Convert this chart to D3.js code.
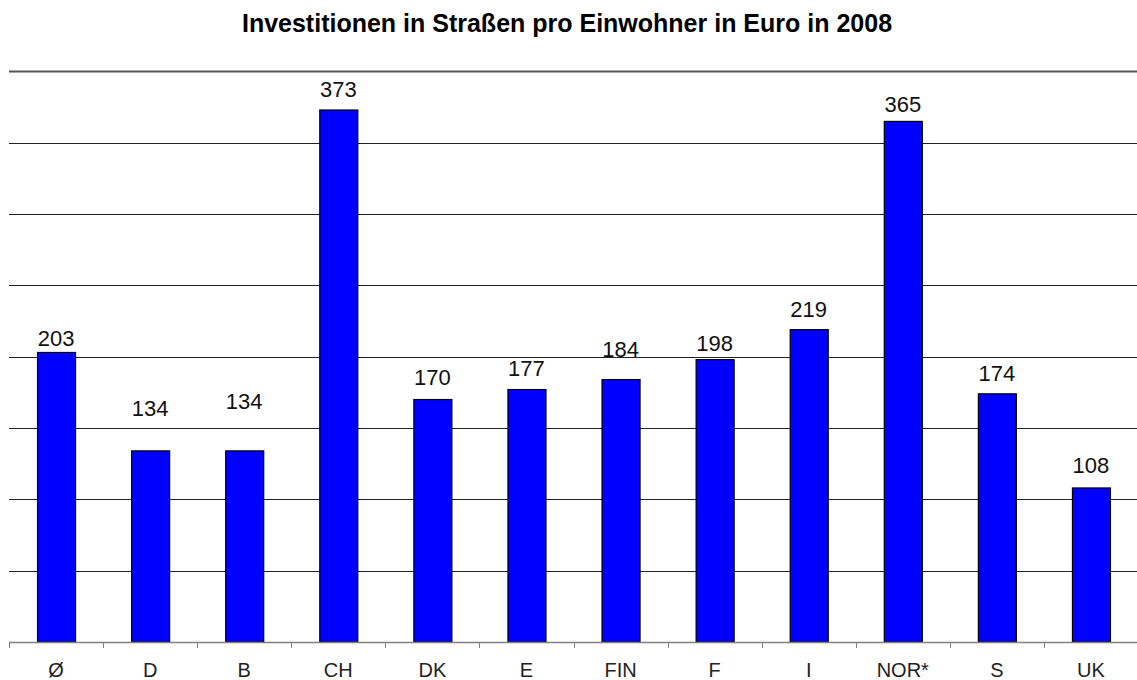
<!DOCTYPE html>
<html><head><meta charset="utf-8">
<script src="https://cdn.jsdelivr.net/npm/d3@7"></script>
<style>body{margin:0;background:#fff;} svg{display:block;font-family:"Liberation Sans",Arial,sans-serif;}</style>
</head><body>
<svg id="c" width="1137" height="680"></svg>
<script>
const title = "Investitionen in Straßen pro Einwohner in Euro in 2008";
const categories = ["Ø","D","B","CH","DK","E","FIN","F","I","NOR*","S","UK"];
const values = [203,134,134,373,170,177,184,198,219,365,174,108];
const yTicks = [0,50,100,150,200,250,300,350,400];
// label gap above bar top (px), styling only
const labelGap = [6,35,42,13,15,14,23,9,13,9,13,15];

const svg = d3.select("#c");
const x = d3.scaleBand().domain(categories).range([9, 1138]).paddingInner(0.596).paddingOuter(0.298);
const y = d3.scaleLinear().domain([0,400]).range([642, 71.5]);

svg.append("text").attr("x",567).attr("y",32).attr("text-anchor","middle")
  .attr("font-weight","bold").attr("font-size",25).text(title);

// gridlines
svg.append("g").selectAll("line").data(yTicks.filter(d=>d>0&&d<400)).join("line")
  .attr("x1",9).attr("x2",1137).attr("y1",d=>Math.round(y(d))+0.5).attr("y2",d=>Math.round(y(d))+0.5)
  .attr("stroke","#222").attr("stroke-width",1);
svg.append("line").attr("x1",9).attr("x2",1137).attr("y1",y(400)).attr("y2",y(400))
  .attr("stroke","#555").attr("stroke-width",2);

// bars
svg.append("g").selectAll("rect").data(values).join("rect")
  .attr("x",(d,i)=>x(categories[i])+0.5).attr("width",x.bandwidth())
  .attr("y",d=>y(d)).attr("height",d=>y(0)-y(d))
  .attr("fill","#0000ff").attr("stroke","#000").attr("stroke-width",1.2);

// x axis
const bw = x.step();
const ax = svg.append("g");
ax.append("line").attr("x1",9).attr("x2",1137).attr("y1",642.5).attr("y2",642.5).attr("stroke","#808080").attr("stroke-width",1.5);
ax.selectAll("line.t").data(d3.range(categories.length+1)).join("line").attr("class","t")
  .attr("x1",i=>Math.round(9+i*bw)+0.5).attr("x2",i=>Math.round(9+i*bw)+0.5)
  .attr("y1",642).attr("y2",648).attr("stroke","#808080").attr("stroke-width",1);
ax.selectAll("text").data(categories).join("text")
  .attr("x",d=>x(d)+x.bandwidth()/2).attr("y",677).attr("text-anchor","middle")
  .attr("font-size",20).attr("fill","#222").text(d=>d);

// value labels
svg.append("g").selectAll("text").data(values).join("text")
  .attr("x",(d,i)=>x(categories[i])+x.bandwidth()/2).attr("y",(d,i)=>y(d)-labelGap[i])
  .attr("text-anchor","middle").attr("font-size",22).attr("fill","#111").text(d=>d);
</script>
</body></html>
